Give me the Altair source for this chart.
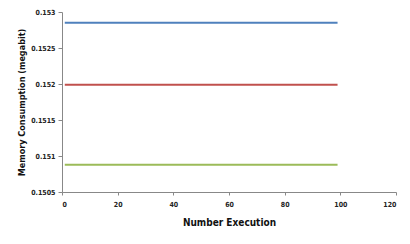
import altair as alt
import pandas as pd

series = ["Series1", "Series2", "Series3"]
x_start = [1, 1, 1]
x_end = [99, 99, 99]
values = [0.15285, 0.15199, 0.15088]
colors = ["#4F81BD", "#C0504D", "#9BBB59"]

rows = []
for s, a, b, v in zip(series, x_start, x_end, values):
    rows.append({"series": s, "x": a, "y": v})
    rows.append({"series": s, "x": b, "y": v})
df = pd.DataFrame(rows)

y_ticks = [0.1505, 0.151, 0.1515, 0.152, 0.1525, 0.153]
x_ticks = [0, 20, 40, 60, 80, 100, 120]

FONT = "DejaVu Sans Condensed"

chart = alt.Chart(df).mark_line(strokeWidth=2).encode(
    x=alt.X("x:Q", scale=alt.Scale(domain=[0, 120], nice=False),
            axis=alt.Axis(values=x_ticks, title="Number Execution", grid=False,
                          labelFontSize=7, labelFontWeight="bold", labelColor="#222",
                          titleFontSize=10, titleFontWeight="bold", titleColor="#111",
                          titlePadding=10, labelPadding=5, tickSize=3,
                          domainColor="#888", tickColor="#888")),
    y=alt.Y("y:Q", scale=alt.Scale(domain=[0.1505, 0.153], nice=False, zero=False),
            axis=alt.Axis(values=y_ticks, format="~g", title="Memory Consumption (megabit)",
                          grid=False, labelFontSize=7, labelFontWeight="bold", labelColor="#222",
                          titleFontSize=9, titleFontWeight="bold", titleColor="#111",
                          titlePadding=4, labelPadding=3, tickSize=4,
                          domainColor="#888", tickColor="#888")),
    color=alt.Color("series:N", scale=alt.Scale(domain=series, range=colors), legend=None),
    detail="series:N",
).properties(
    width=334, height=180,
    autosize=alt.AutoSizeParams(type="none"),
    padding={"left": 54, "top": 4, "right": 6, "bottom": 38},
).configure_view(stroke=None).configure_axis(labelFont=FONT, titleFont=FONT)

chart.save("out.html", embed_options={"renderer": "svg", "actions": False})
